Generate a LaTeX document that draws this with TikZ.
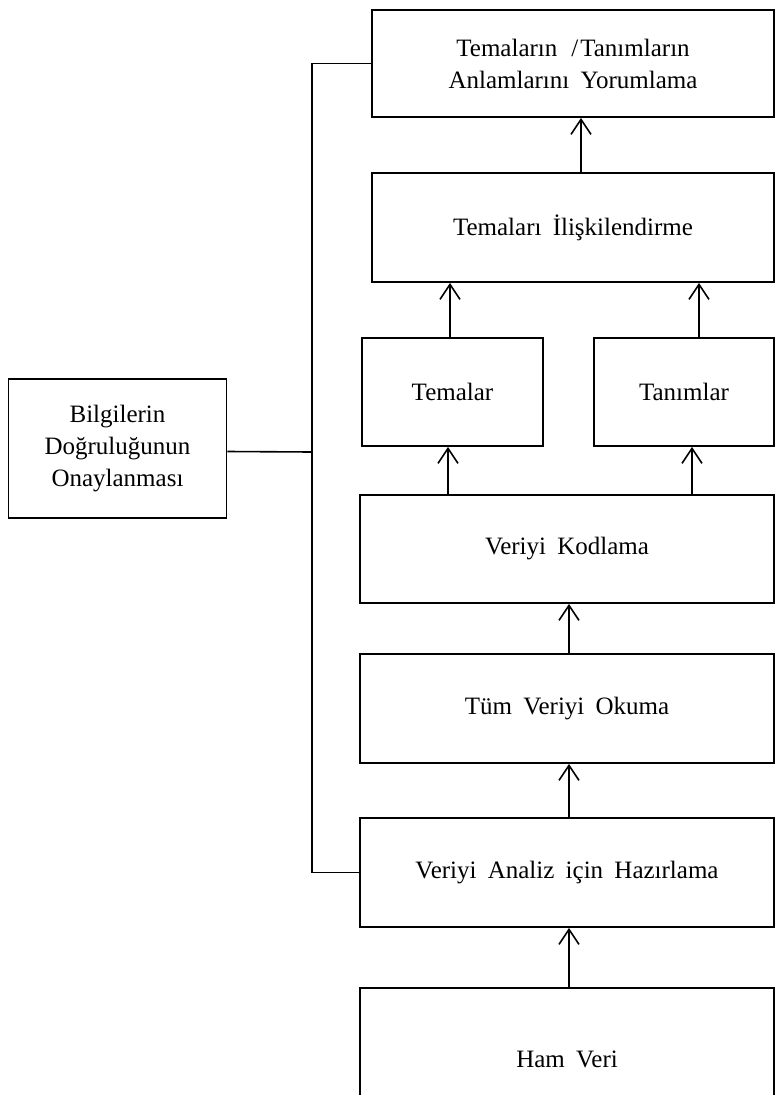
\documentclass[tikz,border=0pt]{standalone}
\usepackage{fontspec}
\setmainfont{Liberation Serif}[WordSpace=1.8]
\usetikzlibrary{arrows.meta}
\tikzset{
  stepbox/.style={draw,line width=1.8pt,align=center,inner sep=0pt,font=\fontsize{25}{32}\selectfont},
  flow/.style={line width=1.6pt,-{Straight Barb[length=15pt,width=20pt]}},
  link/.style={line width=1.6pt}
}
\begin{document}
\begin{tikzpicture}[x=1pt,y=-1pt]
\useasboundingbox (0,0) rectangle (776,1095);
\clip (0,0) rectangle (776,1095);
\node[stepbox,minimum width=402pt,minimum height=107pt] (top) at (573,63.5) {Temaların\hspace{14pt}/\hspace{2pt}Tanımların\\Anlamlarını Yorumlama};
\node[stepbox,minimum width=402pt,minimum height=109pt] (ilis) at (573,227.5) {Temaları İlişkilendirme};
\node[stepbox,minimum width=181pt,minimum height=108pt] (temalar) at (452.5,392) {Temalar};
\node[stepbox,minimum width=180pt,minimum height=108pt] (tanim) at (684,392) {Tanımlar};
\node[stepbox,minimum width=414pt,minimum height=108pt] (kod) at (567,549) {Veriyi Kodlama};
\node[stepbox,minimum width=414pt,minimum height=109pt] (oku) at (567,708.5) {Tüm Veriyi Okuma};
\node[stepbox,minimum width=414pt,minimum height=109pt] (haz) at (567,872.5) {Veriyi Analiz için Hazırlama};
\node[stepbox,minimum width=414pt,minimum height=142pt] (ham) at (567,1059) {Ham Veri};
\node[stepbox,minimum width=218pt,minimum height=139pt] (bilgi) at (117.5,448.5) {Bilgilerin\\Doğruluğunun\\Onaylanması};
\coordinate (spine) at (312,452);
% connectors
\draw[link] (top.west) -- (top.west -| spine) -- (haz.west -| spine) -- (haz.west);
\draw[link] ([yshift=-3pt]bilgi.east) -- (spine);
\draw[flow] ([xshift=8pt]ilis.north) -- ([xshift=8pt]top.south);
\draw[flow] ([xshift=-2.5pt]temalar.north) -- ([xshift=-2.5pt]temalar.north |- ilis.south);
\draw[flow] ([xshift=15pt]tanim.north) -- ([xshift=15pt]tanim.north |- ilis.south);
\draw[flow] ([xshift=-4.5pt]temalar.south |- kod.north) -- ([xshift=-4.5pt]temalar.south);
\draw[flow] ([xshift=8pt]tanim.south |- kod.north) -- ([xshift=8pt]tanim.south);
\draw[flow] ([xshift=2pt]oku.north) -- ([xshift=2pt]kod.south);
\draw[flow] ([xshift=2pt]haz.north) -- ([xshift=2pt]oku.south);
\draw[flow] ([xshift=2pt]ham.north) -- ([xshift=2pt]haz.south);
\end{tikzpicture}
\end{document}
